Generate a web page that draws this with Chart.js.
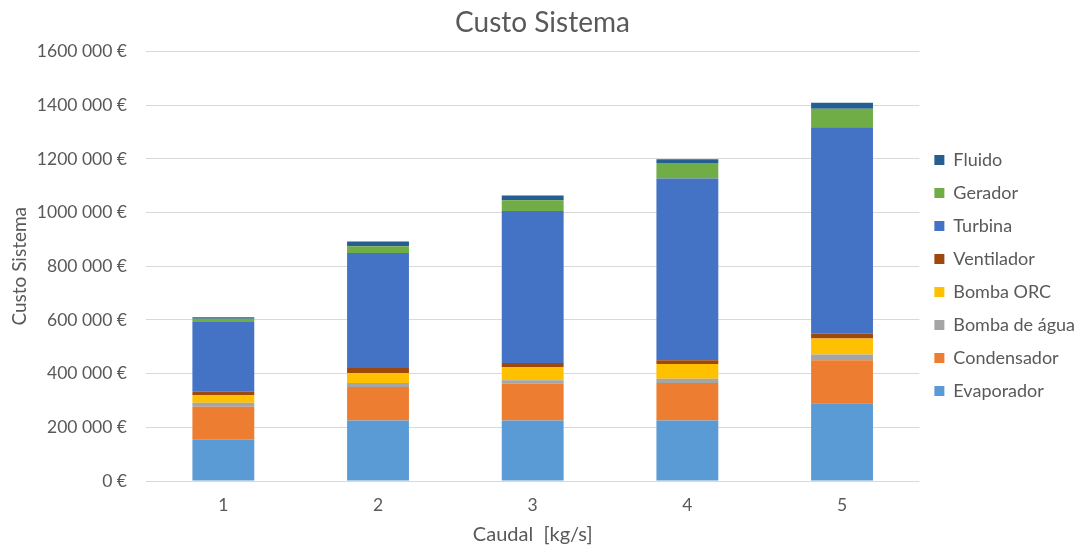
<!DOCTYPE html>
<html>
<head>
<meta charset="utf-8">
<script src="https://cdn.jsdelivr.net/npm/chart.js@4.4.1/dist/chart.umd.min.js"></script>
<style>
  html, body { margin: 0; padding: 0; background: #ffffff; }
  #wrap { width: 1082px; height: 551px; position: relative; }
</style>
</head>
<body>
<div id="wrap"><canvas id="chart" width="1082" height="551"></canvas></div>
<script>
// Flow rates on the x axis
const categories = ['1', '2', '3', '4', '5'];

// Cost of each component (€), stacked from the bottom up
const evaporador   = [154000, 225000, 225000, 225000, 290000];
const condensador  = [122500, 125000, 137500, 140000, 160000];
const bombaAgua    = [15000, 15000, 12500, 16000, 21000];
const bombaORC     = [29000, 37500, 50000, 55000, 60000];
const ventilador   = [12500, 19000, 15000, 14000, 17500];
const turbina      = [259000, 428000, 566000, 677000, 770000];
const gerador      = [13000, 25000, 40000, 58000, 69000];
const fluido       = [5000, 18000, 17500, 14000, 22000];

const seriesNames  = ['Evaporador', 'Condensador', 'Bomba de água', 'Bomba ORC', 'Ventilador', 'Turbina', 'Gerador', 'Fluido'];
const seriesValues = [evaporador, condensador, bombaAgua, bombaORC, ventilador, turbina, gerador, fluido];
const seriesColors = ['#5B9BD5', '#ED7D31', '#A5A5A5', '#FFC000', '#9E480E', '#4472C4', '#70AD47', '#255E91'];

const yMax = 1600000;
const yStep = 200000;

// "1600 000 €" style: thousands separated only before the last three digits
function euro(v) {
  if (v === 0) return '0 €';
  const th = Math.floor(v / 1000);
  const rest = String(v % 1000).padStart(3, '0');
  return th + ' ' + rest + ' €';
}

const FONT = 'Lato, "Open Sans", sans-serif';
const GREY = '#595959';

new Chart(document.getElementById('chart'), {
  type: 'bar',
  data: {
    labels: categories,
    datasets: seriesNames.map((name, i) => ({
      label: name,
      data: seriesValues[i],
      backgroundColor: seriesColors[i],
      borderWidth: 0,
      barPercentage: 0.4,
      categoryPercentage: 1.0
    }))
  },
  options: {
    responsive: false,
    animation: false,
    layout: { padding: { left: 0, right: -3, top: 0, bottom: 0 } },
    plugins: {
      title: {
        display: true,
        text: 'Custo Sistema',
        color: GREY,
        font: { family: FONT, size: 28, weight: 'normal' },
        padding: { top: 6, bottom: 12 }
      },
      legend: {
        position: 'right',
        reverse: true,
        labels: {
          color: GREY,
          font: { family: FONT, size: 18 },
          boxWidth: 10,
          boxHeight: 10,
          padding: 15
        }
      },
      tooltip: { enabled: false }
    },
    scales: {
      x: {
        stacked: true,
        grid: { display: false },
        border: { display: false },
        ticks: { color: GREY, font: { family: FONT, size: 17.5 }, padding: 6 },
        title: {
          display: true,
          text: 'Caudal  [kg/s]',
          color: GREY,
          font: { family: FONT, size: 20 },
          padding: { top: 4, bottom: 4 }
        },
        afterFit: (scale) => { scale.height = 70; }
      },
      y: {
        stacked: true,
        min: 0,
        max: yMax,
        ticks: {
          stepSize: yStep,
          color: GREY,
          font: { family: FONT, size: 17.5 },
          padding: 19,
          callback: (v) => euro(v)
        },
        grid: { color: '#D9D9D9', lineWidth: 1, drawTicks: false },
        border: { display: false },
        title: {
          display: true,
          text: 'Custo Sistema',
          color: GREY,
          font: { family: FONT, size: 19 },
          padding: { top: 8, bottom: 0 }
        },
        afterFit: (scale) => { scale.width = 146; }
      }
    }
  }
});
</script>
</body>
</html>
